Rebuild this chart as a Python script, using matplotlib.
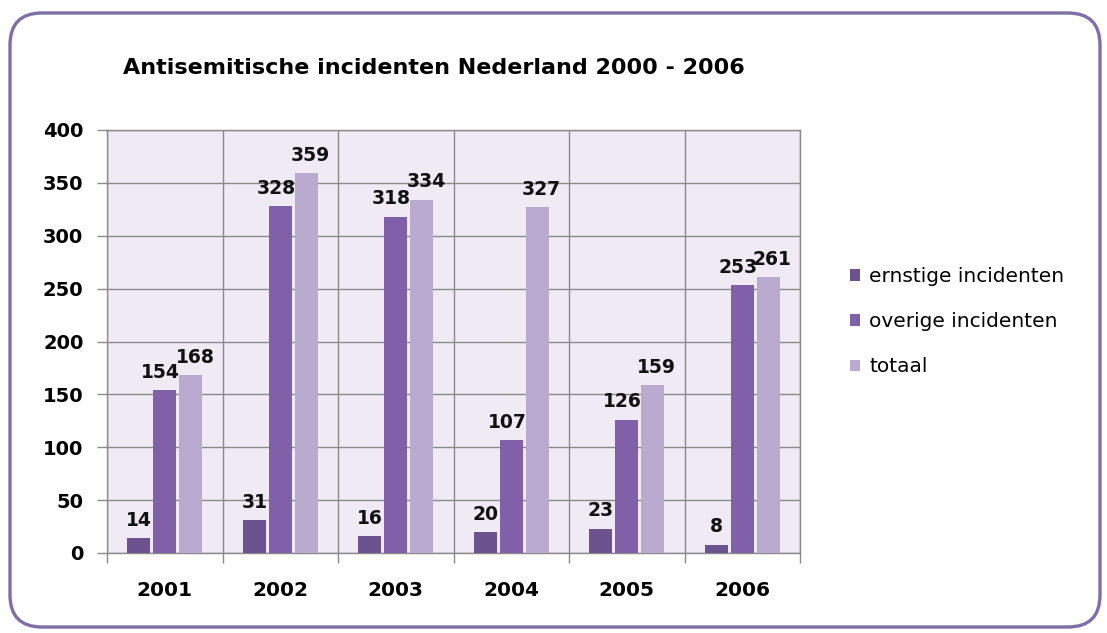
import numpy as np
import matplotlib
matplotlib.use("Agg")
import matplotlib.pyplot as plt
from matplotlib.patches import FancyBboxPatch

years = ["2001", "2002", "2003", "2004", "2005", "2006"]
ernstig = [14, 31, 16, 20, 23, 8]
overig = [154, 328, 318, 107, 126, 253]
totaal = [168, 359, 334, 327, 159, 261]
series_names = ["ernstige incidenten", "overige incidenten", "totaal"]
colors = ["#6d5290", "#8061a9", "#b9aad0"]

fig = plt.figure(figsize=(11.07, 6.33), dpi=100)
fig.patch.set_facecolor("white")

# rounded purple frame around everything
frame = FancyBboxPatch((0.10, 0.06), 10.90, 6.14,
                       boxstyle="round,pad=0,rounding_size=0.32",
                       transform=fig.dpi_scale_trans, fill=False,
                       edgecolor="#7f6ea8", linewidth=2.4, zorder=0)
fig.patches.append(frame)

ax = fig.add_axes([107 / 1107, 1 - 553 / 633, 693 / 1107, 423 / 633])
ax.set_facecolor("#efeaf4")

x = np.arange(len(years))
width = 0.2
step = 0.225
label_dx = [0, -3, 3]   # nudge neighbouring labels apart a little
for i, (vals, name, c) in enumerate(zip([ernstig, overig, totaal], series_names, colors)):
    pos = x + (i - 1) * step
    bars = ax.bar(pos, vals, width, color=c, label=name, zorder=3)
    for b, v in zip(bars, vals):
        ax.annotate(str(v), (b.get_x() + b.get_width() / 2, v),
                    xytext=(label_dx[i], 6), textcoords="offset points",
                    ha="center", va="bottom", fontsize=13.5, fontweight="bold",
                    color="#111111", zorder=4)

ax.set_xlim(-0.5, len(years) - 0.5)
ax.set_ylim(0, 400)
ax.set_yticks(np.arange(0, 401, 50))
ax.set_xticks(x)
ax.set_xticklabels(years)
ax.set_xticks(np.arange(-0.5, len(years), 1.0), minor=True)

ax.grid(axis="y", which="major", color="#8a8a8a", linewidth=1, zorder=1)
ax.grid(axis="x", which="minor", color="#8a8a8a", linewidth=1, zorder=1)
for s in ax.spines.values():
    s.set_color("#8a8a8a")
    s.set_linewidth(1)

ax.tick_params(axis="y", length=7, width=1, color="#8a8a8a", pad=10,
               labelsize=14)
ax.tick_params(axis="x", which="major", length=0, pad=20, labelsize=14.5)
ax.tick_params(axis="x", which="minor", length=7, width=1, color="#8a8a8a")
for lab in ax.get_xticklabels() + ax.get_yticklabels():
    lab.set_fontweight("bold")

fig.text(123 / 1107, 1 - 68 / 633, "Antisemitische incidenten Nederland 2000 - 2006",
         fontsize=16, fontweight="bold", ha="left", va="center")

fig.legend(loc="upper left", bbox_to_anchor=(842 / 1107, 1 - 259 / 633),
           frameon=False, fontsize=14.5, handlelength=0.5, handleheight=0.5,
           handletextpad=0.45, labelspacing=1.3, borderaxespad=0)

fig.savefig("out.png", dpi=100)
